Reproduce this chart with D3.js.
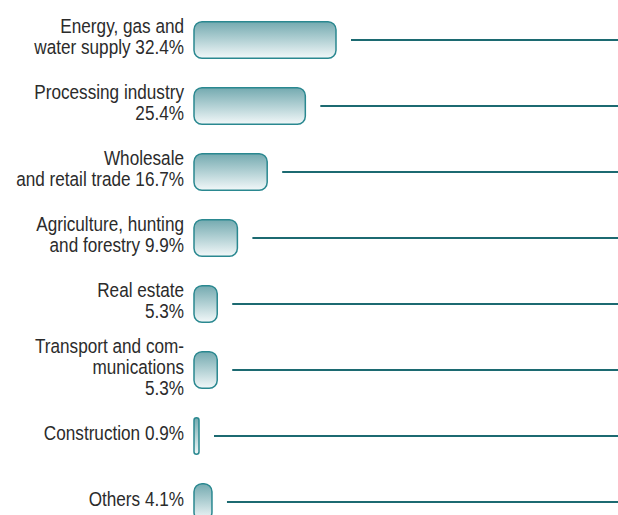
<!DOCTYPE html>
<html>
<head>
<meta charset="utf-8">
<script src="https://cdn.jsdelivr.net/npm/d3@7"></script>
<style>
  body { margin: 0; background: #fff; }
  .lbl { font-family: "Liberation Sans", Arial, sans-serif; font-size: 19.5px; fill: #2b2b2b; }
</style>
</head>
<body>
<div class="chart"></div>
<script>
// Data
var categories = ["energy", "processing", "trade", "agriculture", "realestate", "transport", "construction", "others"];
var shares = [32.4, 25.4, 16.7, 9.9, 5.3, 5.3, 0.9, 4.1];
var labels = [
  ["Energy, gas and", "water supply 32.4%"],
  ["Processing industry", "25.4%"],
  ["Wholesale", "and retail trade 16.7%"],
  ["Agriculture, hunting", "and forestry 9.9%"],
  ["Real estate", "5.3%"],
  ["Transport and com-", "munications", "5.3%"],
  ["Construction 0.9%"],
  ["Others 4.1%"]
];

var svg_width = 618;
var svg_height = 515;

var barLeft = 194;
var barHeight = 36.5;
var lineGap = 15;

var rows = categories.map(function(c, i) {
  return { key: c, value: shares[i], label: labels[i] };
});

var svg = d3.select(".chart")
  .append("svg")
  .attr("width", svg_width)
  .attr("height", svg_height);

// gradient fill for bars
var grad = svg.append("defs").append("linearGradient")
  .attr("id", "barGrad")
  .attr("x1", 0).attr("y1", 0).attr("x2", 0).attr("y2", 1);
grad.append("stop").attr("offset", "0%").attr("stop-color", "#74aab0");
grad.append("stop").attr("offset", "100%").attr("stop-color", "#f2f8f9");

// Scales
var xScale = d3.scaleLinear()
  .domain([0, 32.4])
  .range([0, 142]);

var yScale = d3.scalePoint()
  .domain(categories)
  .range([40, 502]);

function barW(d) { return Math.max(5, xScale(d.value)); }

var g = svg.append("g");

// horizontal lines to the right edge
g.selectAll("line.lead")
  .data(rows)
  .enter()
  .append("line")
  .attr("class", "lead")
  .attr("x1", d => barLeft + barW(d) + lineGap)
  .attr("x2", svg_width)
  .attr("y1", d => yScale(d.key))
  .attr("y2", d => yScale(d.key))
  .attr("stroke", "#1c6a71")
  .attr("stroke-width", 2);

// bars
g.selectAll("rect.bar")
  .data(rows)
  .enter()
  .append("rect")
  .attr("class", "bar")
  .attr("x", barLeft)
  .attr("y", d => yScale(d.key) - barHeight / 2)
  .attr("width", d => barW(d))
  .attr("height", barHeight)
  .attr("rx", d => Math.min(8, barW(d) / 2))
  .attr("ry", d => Math.min(8, barW(d) / 2))
  .attr("fill", "url(#barGrad)")
  .attr("stroke", "#2a8890")
  .attr("stroke-width", 1.5);

// labels (narrow face: Arial-metric font squeezed horizontally)
var lineH = 21;
var text = g.selectAll("text.lbl")
  .data(rows)
  .enter()
  .append("text")
  .attr("class", "lbl")
  .attr("text-anchor", "end")
  .attr("transform", d => `translate(184, ${yScale(d.key) - 3}) scale(0.88, 1)`);

text.each(function(d) {
  var n = d.label.length;
  var t = d3.select(this);
  d.label.forEach(function(s, i) {
    t.append("tspan")
      .attr("x", 0)
      .attr("y", (i - (n - 1) / 2) * lineH)
      .attr("dy", "0.35em")
      .text(s);
  });
});
</script>
</body>
</html>
